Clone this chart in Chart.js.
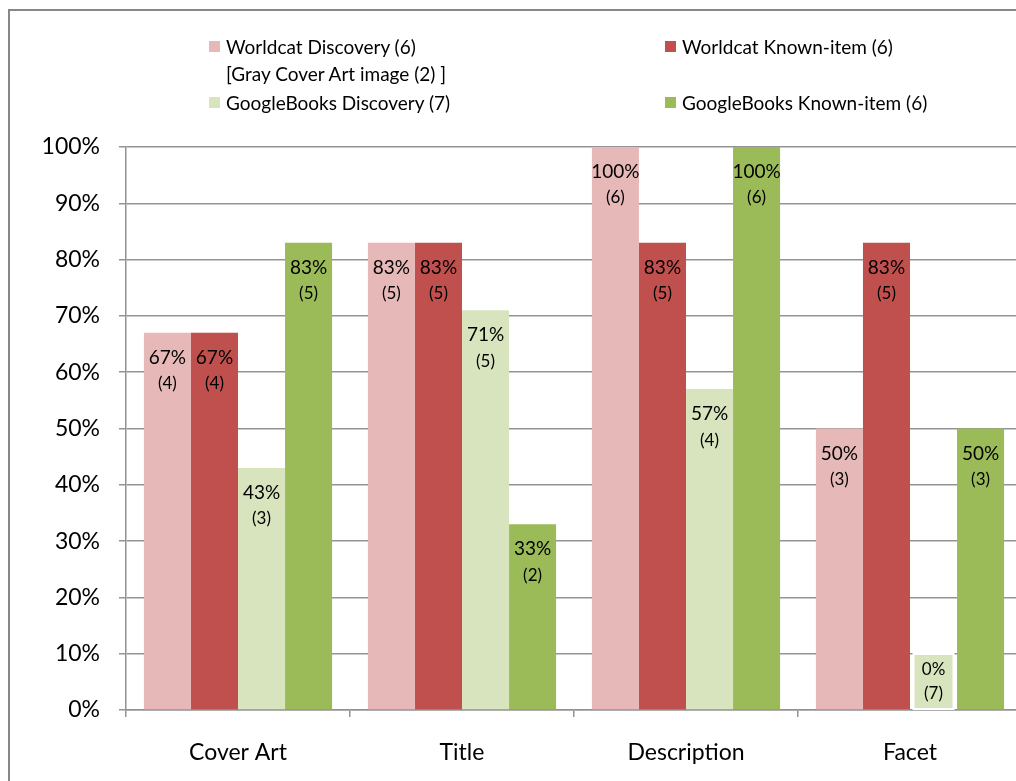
<!DOCTYPE html>
<html>
<head>
<meta charset="utf-8">
<script src="https://cdn.jsdelivr.net/npm/chart.js@4.4.0/dist/chart.umd.min.js"></script>
<style>
html, body { margin: 0; padding: 0; background: #fff; overflow: hidden; }
#wrap { position: relative; width: 1016px; height: 781px; overflow: hidden; font-family: Lato, sans-serif; }
#frame { position: absolute; left: 8px; top: 9px; width: 1100px; height: 900px;
         border-left: 2px solid #878787; border-top: 2px solid #878787; }
#chart { position: absolute; left: 0; top: 0; }
.leg { position: absolute; font-size: 19px; line-height: 20px; color: #000; white-space: nowrap; }
.leg i { position: absolute; left: -17px; top: 4px; width: 11px; height: 11px; }
</style>
</head>
<body>
<div id="wrap">
  <div id="frame"></div>
  <canvas id="chart" width="1040" height="781"></canvas>
  <div id="legend"></div>
</div>
<script>
// Chart data
var categories = ["Cover Art", "Title", "Description", "Facet"];
var seriesNames = ["Worldcat Discovery (6)", "Worldcat Known-item (6)", "GoogleBooks Discovery (7)", "GoogleBooks Known-item (6)"];
var seriesNote = "[Gray Cover Art image (2) ]";

var worldcatDiscovery = [67, 83, 100, 50];
var worldcatKnown     = [67, 83, 83, 83];
var googleDiscovery   = [43, 71, 57, 0];
var googleKnown       = [83, 33, 100, 50];

// counts shown under the percentages
var worldcatDiscoveryN = [4, 5, 6, 3];
var worldcatKnownN     = [4, 5, 5, 5];
var googleDiscoveryN   = [3, 5, 4, 7];
var googleKnownN       = [5, 2, 6, 3];

var colors = ['#E6B9B8', '#C0504D', '#D7E4BD', '#9BBB59'];
var gridColor = '#939393';

// Legend (html, two columns)
var legendSpots = [[226, 37], [682, 37], [226, 93], [682, 93]];
var legendHtml = '';
seriesNames.forEach(function(name, i) {
    legendHtml += '<div class="leg" style="left:' + legendSpots[i][0] + 'px;top:' + legendSpots[i][1] + 'px">' +
        '<i style="background:' + colors[i] + '"></i>' + name + '</div>';
});
legendHtml += '<div class="leg" style="left:226px;top:64px">' + seriesNote + '</div>';
document.getElementById('legend').innerHTML = legendHtml;

// Percent + count labels inside the bars
var barLabels = {
    id: 'barLabels',
    afterDatasetsDraw: function(chart) {
        var ctx = chart.ctx;
        ctx.save();
        ctx.textAlign = 'center';
        ctx.textBaseline = 'middle';
        chart.data.datasets.forEach(function(ds, i) {
            var meta = chart.getDatasetMeta(i);
            meta.data.forEach(function(bar, j) {
                var v = ds.data[j];
                var n = ds.counts[j];
                if (v > 0) {
                    ctx.fillStyle = '#000';
                    ctx.font = '19px Lato';
                    ctx.fillText(v + '%', bar.x, bar.y + 25);
                    ctx.font = '17px Lato';
                    ctx.fillText('(' + n + ')', bar.x, bar.y + 51);
                } else {
                    // zero bar: the label gets its own filled box on the axis
                    var w = 40, h = 55;
                    ctx.fillStyle = ds.backgroundColor;
                    ctx.fillRect(bar.x - w / 2, bar.base - h - 1, w, h);
                    ctx.strokeStyle = '#fff';
                    ctx.lineWidth = 2;
                    ctx.strokeRect(bar.x - w / 2, bar.base - h - 1, w, h);
                    ctx.fillStyle = '#000';
                    ctx.font = '17px Lato';
                    ctx.fillText(v + '%', bar.x, bar.base - h + 15);
                    ctx.fillText('(' + n + ')', bar.x, bar.base - h + 39);
                }
            });
        });
        ctx.restore();
    }
};

var ctx = document.getElementById('chart');

var chartData = {
    labels: categories,
    datasets: [
        { label: seriesNames[0], data: worldcatDiscovery, counts: worldcatDiscoveryN, backgroundColor: colors[0] },
        { label: seriesNames[1], data: worldcatKnown, counts: worldcatKnownN, backgroundColor: colors[1] },
        { label: seriesNames[2], data: googleDiscovery, counts: googleDiscoveryN, backgroundColor: colors[2] },
        { label: seriesNames[3], data: googleKnown, counts: googleKnownN, backgroundColor: colors[3] }
    ]
};

var chartOptions = {
    responsive: false,
    animation: false,
    devicePixelRatio: 1,
    layout: { padding: { top: 147, right: 18, left: 0, bottom: 0 } },
    categoryPercentage: 0.84,
    barPercentage: 1.0,
    plugins: {
        legend: { display: false },
        tooltip: { enabled: false }
    },
    scales: {
        x: {
            grid: { offset: true, drawOnChartArea: false, drawTicks: true, tickLength: 7, color: gridColor, lineWidth: 1.5 },
            border: { color: gridColor, width: 1.5 },
            ticks: { color: '#000', font: { family: 'Lato', size: 23 }, padding: 22 },
            afterFit: function(scale) { scale.height = 71; }
        },
        y: {
            min: 0,
            max: 100,
            grid: { tickLength: 7, color: gridColor, lineWidth: 1.5 },
            border: { color: gridColor, width: 1.5 },
            ticks: {
                stepSize: 10,
                color: '#000',
                font: { family: 'Lato', size: 23 },
                padding: 19,
                callback: function(v) { return v + '%'; }
            },
            afterFit: function(scale) { scale.width = 126; }
        }
    }
};

var chart = new Chart(ctx, {
    type: 'bar',
    data: chartData,
    options: chartOptions,
    plugins: [barLabels]
});
</script>
</body>
</html>
